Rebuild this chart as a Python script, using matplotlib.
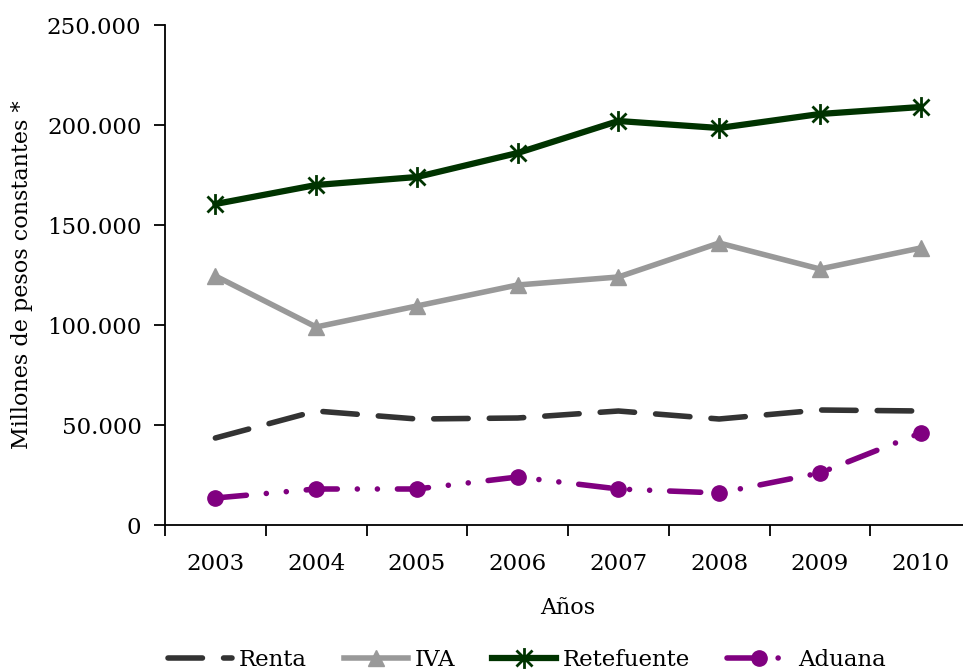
import numpy as np
import matplotlib
matplotlib.use("Agg")
import matplotlib.pyplot as plt
from matplotlib.path import Path
from matplotlib.ticker import FuncFormatter, FixedLocator

plt.rcParams['font.family'] = ['DejaVu Serif']

# data (millones de pesos constantes)
years = ['2003', '2004', '2005', '2006', '2007', '2008', '2009', '2010']
renta = [43500, 57000, 53000, 53500, 57000, 53000, 57500, 57000]
iva = [124500, 99000, 109500, 120000, 124000, 141000, 128000, 138500]
retefuente = [160500, 170000, 174000, 186000, 202000, 198500, 205500, 209000]
aduana = [13500, 18000, 18000, 24000, 18000, 16000, 26000, 46000]

# Excel-like star marker: X plus vertical bar
star = Path([(-1, -1), (1, 1), (-1, 1), (1, -1), (0, -1.3), (0, 1.3)],
            [Path.MOVETO, Path.LINETO, Path.MOVETO, Path.LINETO, Path.MOVETO, Path.LINETO])

fig = plt.figure(figsize=(9.63, 6.7), dpi=100)
ax = fig.add_axes([165/963, 1 - 525/670, 806/963, 500/670])

x = np.arange(len(years))

ax.plot(x, renta, color='#333333', lw=4, dashes=(6.2, 3.8),
        dash_capstyle='round', label='Renta')
ax.plot(x, iva, color='#999999', lw=4, marker='^', markersize=11,
        label='IVA')
ax.plot(x, retefuente, color='#003300', lw=4.5, marker=star, markersize=15,
        markeredgewidth=2, label='Retefuente')
ax.plot(x, aduana, color='#800080', lw=4, dashes=(5.6, 3.6, 0.01, 3.6, 0.01, 3.6),
        dash_capstyle='round', marker='o', markersize=11, label='Aduana')

ax.set_xlim(-0.5, 7.5)
ax.set_ylim(0, 250000)
ax.set_yticks(np.arange(0, 250001, 50000))
ax.yaxis.set_major_formatter(FuncFormatter(lambda v, p: f'{int(v):,}'.replace(',', '.')))
ax.set_xticks(x)
ax.set_xticklabels(years)
ax.xaxis.set_minor_locator(FixedLocator(np.arange(-0.5, 8, 1)))
ax.tick_params(axis='x', which='major', length=0, pad=20, labelsize=16.5)
ax.tick_params(axis='x', which='minor', length=8, width=1.3, direction='out')
ax.tick_params(axis='y', length=8, width=1.3, direction='out', pad=9, labelsize=16.5)

for s in ['top', 'right']:
    ax.spines[s].set_visible(False)
for s in ['left', 'bottom']:
    ax.spines[s].set_linewidth(1.3)

ax.set_ylabel('Millones de pesos constantes *', fontsize=16, labelpad=10)
ax.set_xlabel('Años', fontsize=16, labelpad=16)

fig.legend(loc='center', bbox_to_anchor=(527/963, 1 - 660/670), ncol=4,
           frameon=False, fontsize=16.5, handlelength=2.8, columnspacing=1.6,
           handletextpad=0.3)

fig.savefig('out.png', dpi=100)
